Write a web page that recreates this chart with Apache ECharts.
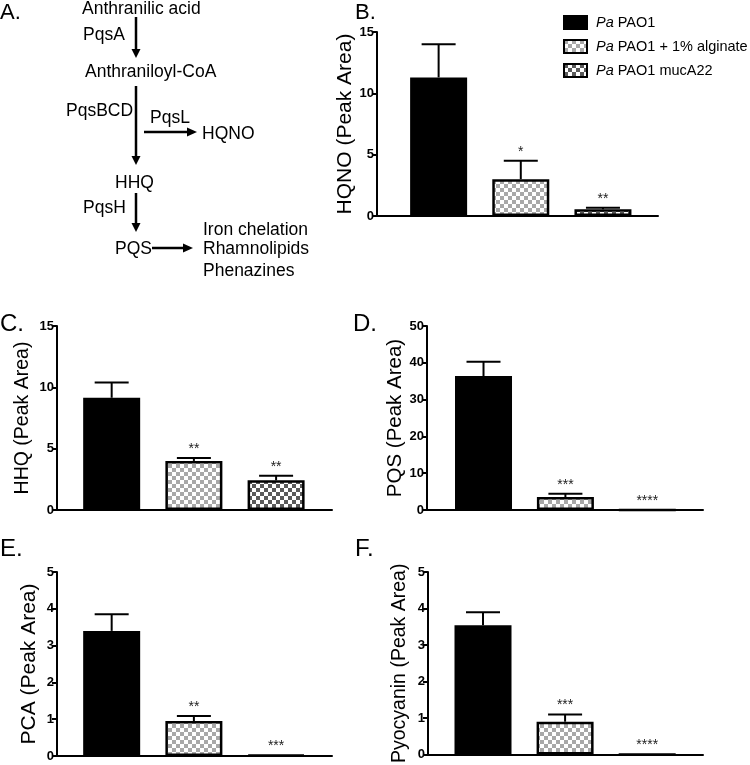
<!DOCTYPE html>
<html>
<head>
<meta charset="utf-8">
<script src="https://cdn.jsdelivr.net/npm/echarts@6/dist/echarts.min.js"></script>
<style>
html,body{margin:0;padding:0;background:#fff;}
#chart{width:750px;height:765px;}
</style>
</head>
<body>
<div id="chart"></div>
<script>
// ---------- DATA ----------
const groups = ['Pa PAO1', 'Pa PAO1 + 1% alginate', 'Pa PAO1 mucA22'];
const groupX = [1, 2, 3];

const hqnoMean = [11.3, 3.0, 0.55];
const hqnoSem  = [2.7, 1.5, 0.13];
const hqnoSig  = ['', '*', '**'];

const hhqMean = [9.15, 4.0, 2.42];
const hhqSem  = [1.25, 0.24, 0.38];
const hhqSig  = ['', '**', '**'];

const pqsMean = [36.4, 3.5, 0];
const pqsSem  = [3.9, 0.9, 0];
const pqsSig  = ['', '***', '****'];

const pcaMean = [3.40, 0.95, 0.03];
const pcaSem  = [0.45, 0.14, 0];
const pcaSig  = ['', '**', '***'];

const pyoMean = [3.54, 0.90, 0];
const pyoSem  = [0.36, 0.20, 0];
const pyoSig  = ['', '***', '****'];

const yTitles = ['HQNO (Peak Area)', 'HHQ (Peak Area)', 'PQS (Peak Area)', 'PCA (Peak Area)', 'Pyocyanin (Peak Area)'];
const yMax = [15, 15, 50, 5, 5];
const yInterval = [5, 5, 10, 1, 1];
const panelLetters = ['B.', 'C.', 'D.', 'E.', 'F.'];

const pathwayTexts = [
  'Anthranilic acid', 'PqsA', 'Anthraniloyl-CoA', 'PqsBCD', 'PqsL', 'HQNO',
  'HHQ', 'PqsH', 'PQS', 'Iron chelation', 'Rhamnolipids', 'Phenazines'
];

// ---------- STYLE / LAYOUT ----------
const FONT = "'Liberation Sans', Arial, Helvetica, sans-serif";

function checker(fg, cell) {
  const c = document.createElement('canvas');
  c.width = cell * 2; c.height = cell * 2;
  const g = c.getContext('2d');
  g.fillStyle = '#ffffff'; g.fillRect(0, 0, c.width, c.height);
  g.fillStyle = fg;
  g.fillRect(0, 0, cell, cell);
  g.fillRect(cell, cell, cell, cell);
  return c;
}
const fills = [
  '#000000',
  { image: checker('#a8a8a8', 4), repeat: 'repeat' },
  { image: checker('#5a5a5a', 4), repeat: 'repeat' }
];

const panels = [
  { mean: hqnoMean, sem: hqnoSem, sig: hqnoSig, grid: { left: 377, top: 32, width: 281, height: 184 }, xMin: 0.25, xMax: 3.67, nameGap: 21, nameSize: 21 },
  { mean: hhqMean, sem: hhqSem, sig: hhqSig, grid: { left: 57, top: 326, width: 275, height: 184 }, xMin: 0.335, xMax: 3.68, nameGap: 24, nameSize: 19.5 },
  { mean: pqsMean, sem: pqsSem, sig: pqsSig, grid: { left: 427, top: 326, width: 276, height: 184 }, xMin: 0.31, xMax: 3.68, nameGap: 20, nameSize: 20.5 },
  { mean: pcaMean, sem: pcaSem, sig: pcaSig, grid: { left: 57, top: 572, width: 275, height: 184 }, xMin: 0.335, xMax: 3.68, nameGap: 17, nameSize: 21 },
  { mean: pyoMean, sem: pyoSem, sig: pyoSig, grid: { left: 428, top: 572, width: 275, height: 184 }, xMin: 0.33, xMax: 3.68, nameGap: 18, nameSize: 19.5 }
];
const letterPos = [[355, 13, 22], [0, 324, 24], [353, 324, 24], [0, 549, 24], [355, 549, 24]];

const grids = [], xAxes = [], yAxes = [], series = [];
panels.forEach((p, i) => {
  grids.push(Object.assign({ containLabel: false }, p.grid));
  xAxes.push({
    type: 'value', gridIndex: i, min: p.xMin, max: p.xMax,
    axisLine: { show: true, onZero: true, lineStyle: { color: '#000', width: 2 } },
    axisTick: { show: false }, axisLabel: { show: false }, splitLine: { show: false }
  });
  yAxes.push({
    type: 'value', gridIndex: i, min: 0, max: yMax[i], interval: yInterval[i],
    name: yTitles[i], nameLocation: 'middle', nameGap: p.nameGap, nameRotate: 90,
    nameTextStyle: { fontFamily: FONT, fontSize: p.nameSize, color: '#000' },
    axisLine: { show: true, lineStyle: { color: '#000', width: 2 } },
    axisTick: { show: true, length: 5, lineStyle: { color: '#000', width: 2 } },
    axisLabel: { fontFamily: FONT, fontSize: 13, fontWeight: 'bold', color: '#000', margin: 3 },
    splitLine: { show: false }
  });
  groups.forEach((g, k) => {
    series.push({
      type: 'bar', name: g, xAxisIndex: i, yAxisIndex: i,
      barWidth: 57, barGap: '-100%',
      data: [[groupX[k], p.mean[k]]],
      itemStyle: { color: fills[k], borderColor: '#000', borderWidth: 2.5 },
      emphasis: { disabled: true },
      z: 2
    });
  });
  series.push({
    type: 'custom', xAxisIndex: i, yAxisIndex: i, z: 5, silent: true,
    data: groupX.map((x, k) => [x, p.mean[k], p.mean[k] + p.sem[k], k]),
    renderItem: function (params, api) {
      const x = api.value(0), m = api.value(1), e = api.value(2), k = api.value(3);
      const pm = api.coord([x, m]);
      const pe = api.coord([x, e]);
      const children = [];
      if (e > m) {
        children.push({ type: 'line', shape: { x1: pe[0], y1: pm[1], x2: pe[0], y2: pe[1] }, style: { stroke: '#000', lineWidth: 2 } });
        children.push({ type: 'line', shape: { x1: pe[0] - 17, y1: pe[1], x2: pe[0] + 17, y2: pe[1] }, style: { stroke: '#000', lineWidth: 2 } });
      }
      const s = p.sig[k];
      if (s) {
        children.push({ type: 'text', x: pe[0], y: pe[1] - 9, style: { text: s, fontFamily: FONT, fontSize: 14, fill: '#222', align: 'center', verticalAlign: 'middle' } });
      }
      return { type: 'group', children: children };
    }
  });
});

// ---------- PANEL A (pathway) ----------
const graphics = [];
function txt(t, x, y, size) {
  graphics.push({ type: 'text', x: x, y: y, style: { text: t, fontFamily: FONT, fontSize: size || 17.5, fill: '#000', align: 'left', verticalAlign: 'middle' } });
}
function arrowV(x, y1, y2) {
  graphics.push({ type: 'line', shape: { x1: x, y1: y1, x2: x, y2: y2 - 8 }, style: { stroke: '#000', lineWidth: 2.5 } });
  graphics.push({ type: 'polygon', shape: { points: [[x - 4.5, y2 - 9], [x + 4.5, y2 - 9], [x, y2]] }, style: { fill: '#000' } });
}
function arrowH(y, x1, x2) {
  graphics.push({ type: 'line', shape: { x1: x1, y1: y, x2: x2 - 8, y2: y }, style: { stroke: '#000', lineWidth: 2.5 } });
  graphics.push({ type: 'polygon', shape: { points: [[x2 - 10, y - 4.5], [x2 - 10, y + 4.5], [x2, y]] }, style: { fill: '#000' } });
}
const tp = pathwayTexts;
txt(tp[0], 82, 9);
arrowV(136, 17, 58);
txt(tp[1], 83, 35);
txt(tp[2], 85, 72);
arrowV(136, 86, 165);
txt(tp[3], 66, 111);
txt(tp[4], 150, 118);
arrowH(132, 144, 197);
txt(tp[5], 202, 134);
txt(tp[6], 115, 183);
arrowV(136, 193, 232);
txt(tp[7], 83, 208);
txt(tp[8], 115, 249);
arrowH(248, 152, 193);
txt(tp[9], 203, 230);
txt(tp[10], 203, 249);
txt(tp[11], 203, 271);
// panel letters
graphics.push({ type: 'text', x: 0, y: 13, style: { text: 'A.', fontFamily: FONT, fontSize: 22, fill: '#000', verticalAlign: 'middle' } });
panelLetters.forEach((l, i) => {
  const lp = letterPos[i];
  graphics.push({ type: 'text', x: lp[0], y: lp[1], style: { text: l, fontFamily: FONT, fontSize: lp[2], fill: '#000', verticalAlign: 'middle' } });
});

const chart = echarts.init(document.getElementById('chart'), null, { renderer: 'canvas' });
chart.setOption({
  animation: false,
  backgroundColor: '#fff',
  legend: {
    data: groups, orient: 'vertical', left: 563, top: 15, padding: 0,
    itemWidth: 23, itemHeight: 13, itemGap: 9, icon: 'rect',
    selectedMode: false,
    itemStyle: { borderColor: '#000', borderWidth: 2 },
    textStyle: { fontFamily: FONT, fontSize: 14.5, color: '#000', padding: [0, 0, 0, 4],
      rich: { i: { fontFamily: FONT, fontSize: 14.5, fontStyle: 'italic', color: '#000' } } },
    formatter: function (name) { return '{i|Pa}' + name.slice(2); }
  },
  grid: grids, xAxis: xAxes, yAxis: yAxes, series: series,
  graphic: graphics
});
</script>
</body>
</html>
